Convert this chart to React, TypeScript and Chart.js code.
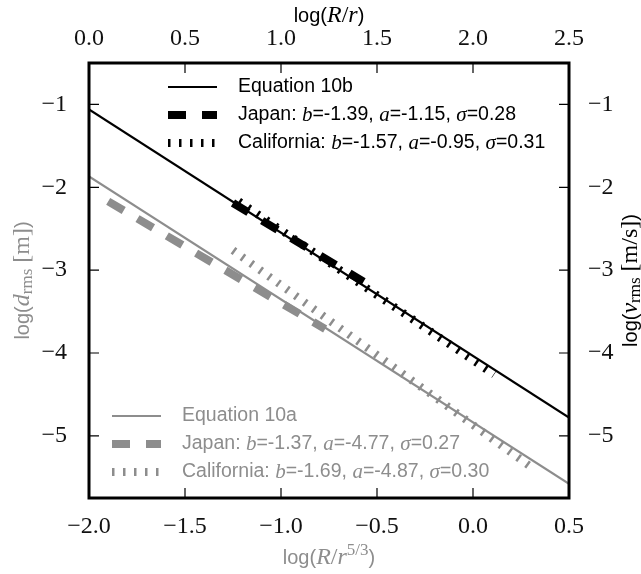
import React, { useEffect, useRef } from 'react';
import { Chart, registerables } from 'chart.js';

Chart.register(...registerables);

// ---- data ----
// Equation 10b family: x = log(R/r) (top axis), y = log(v_rms) (right axis)
const eq10bX = [0.0, 2.5];
const eq10bY = [-1.06, -4.78];
const japan10bX = [0.75, 1.43];
const japan10bY = [-2.19, -3.14];
const california10bX = [0.78, 2.11];
const california10bY = [-2.17, -4.26];

// Equation 10a family: x = log(R/r^{5/3}) (bottom axis), y = log(d_rms) (left axis)
const eq10aX = [-2.0, 0.5];
const eq10aY = [-1.87, -5.58];
const japan10aX = [-1.9, -0.77];
const japan10aY = [-2.17, -3.71];
const california10aX = [-1.25, 0.31];
const california10aY = [-2.76, -5.39];

const bottomTicks = [-2.0, -1.5, -1.0, -0.5, 0.0, 0.5];
const topTicks = [0.0, 0.5, 1.0, 1.5, 2.0, 2.5];
const yTicks = [-5, -4, -3, -2, -1];
const bottomRange = [-2.0, 0.5];
const topRange = [0.0, 2.5];
const yRange = [-5.75, -0.5];

const labels10b = [
  'Equation 10b',
  'Japan: b=-1.39, a=-1.15, σ=0.28',
  'California: b=-1.57, a=-0.95, σ=0.31',
];
const labels10a = [
  'Equation 10a',
  'Japan: b=-1.37, a=-4.77, σ=0.27',
  'California: b=-1.69, a=-4.87, σ=0.30',
];

const BLACK = '#000000';
const GREY = '#8d8d8d';
const SANS = '"Liberation Sans", Arial, sans-serif';
const SERIF = '"Liberation Serif", "Times New Roman", serif';

type Run = { t: string; f: string; dy?: number };

function pts(xs: number[], ys: number[]) {
  return xs.map((x, i) => ({ x, y: ys[i] }));
}

function legendRuns(label: string, size: number): Run[] {
  const runs: Run[] = [];
  const re = /(b|a|σ)(?==)/g;
  let last = 0;
  let m: RegExpExecArray | null;
  while ((m = re.exec(label))) {
    if (m.index > last) runs.push({ t: label.slice(last, m.index), f: `${size}px ${SANS}` });
    runs.push({ t: m[1], f: `italic ${size + 1.5}px ${SERIF}` });
    last = m.index + 1;
  }
  if (last < label.length) runs.push({ t: label.slice(last), f: `${size}px ${SANS}` });
  return runs;
}

function drawRuns(ctx: CanvasRenderingContext2D, runs: Run[], x: number, y: number, align: 'left' | 'center', rot = 0) {
  ctx.save();
  ctx.translate(x, y);
  if (rot) ctx.rotate(rot);
  ctx.textBaseline = 'middle';
  ctx.textAlign = 'left';
  let total = 0;
  for (const r of runs) {
    ctx.font = r.f;
    total += ctx.measureText(r.t).width;
  }
  let cx = align === 'center' ? -total / 2 : 0;
  for (const r of runs) {
    ctx.font = r.f;
    ctx.fillText(r.t, cx, r.dy || 0);
    cx += ctx.measureText(r.t).width;
  }
  ctx.restore();
}

const decor = {
  id: 'decor',
  afterDatasetsDraw(chart: any) {
    const { ctx, chartArea: a, scales } = chart;
    ctx.save();
    // inward tick marks
    ctx.strokeStyle = BLACK;
    ctx.lineWidth = 1.2;
    const L = 10;
    ctx.beginPath();
    for (const t of scales.x.ticks) {
      const p = scales.x.getPixelForValue(t.value);
      ctx.moveTo(p, a.bottom); ctx.lineTo(p, a.bottom - L);
    }
    for (const t of scales.x2.ticks) {
      const p = scales.x2.getPixelForValue(t.value);
      ctx.moveTo(p, a.top); ctx.lineTo(p, a.top + L);
    }
    for (const t of scales.y.ticks) {
      const p = scales.y.getPixelForValue(t.value);
      ctx.moveTo(a.left, p); ctx.lineTo(a.left + L, p);
    }
    for (const t of scales.y2.ticks) {
      const p = scales.y2.getPixelForValue(t.value);
      ctx.moveTo(a.right, p); ctx.lineTo(a.right - L, p);
    }
    ctx.stroke();
    // frame
    ctx.lineWidth = 3;
    ctx.strokeRect(a.left, a.top, a.right - a.left, a.bottom - a.top);

    // legends
    const ds = chart.data.datasets;
    const drawLegend = (idx: number[], labels: string[], sx: number, rowYs: number[], color: string) => {
      idx.forEach((di, i) => {
        const d = ds[di];
        const y = rowYs[i];
        ctx.save();
        ctx.strokeStyle = d.borderColor;
        ctx.lineWidth = d.borderWidth;
        ctx.setLineDash(d.borderDash || []);
        ctx.lineCap = 'butt';
        ctx.beginPath();
        ctx.moveTo(sx, y);
        ctx.lineTo(sx + 49, y);
        ctx.stroke();
        ctx.restore();
        ctx.fillStyle = color;
        drawRuns(ctx, legendRuns(labels[i], 19.5), sx + 70, y, 'left');
      });
    };
    drawLegend([0, 1, 2], labels10b, a.left + 79, [a.top + 24, a.top + 52, a.top + 80], BLACK);
    drawLegend([3, 4, 5], labels10a, a.left + 23, [a.bottom - 82, a.bottom - 54, a.bottom - 26], GREY);

    // axis titles
    const cxm = (a.left + a.right) / 2;
    const cym = (a.top + a.bottom) / 2;
    ctx.fillStyle = BLACK;
    drawRuns(ctx, [
      { t: 'log(', f: `20px ${SANS}` },
      { t: 'R', f: `italic 24px ${SERIF}` },
      { t: '/', f: `24px ${SERIF}` },
      { t: 'r', f: `italic 24px ${SERIF}` },
      { t: ')', f: `20px ${SANS}` },
    ], cxm, 16, 'center');
    ctx.fillStyle = GREY;
    drawRuns(ctx, [
      { t: 'log(', f: `20px ${SANS}` },
      { t: 'R', f: `italic 24px ${SERIF}` },
      { t: '/', f: `24px ${SERIF}` },
      { t: 'r', f: `italic 24px ${SERIF}` },
      { t: '5/3', f: `17px ${SERIF}`, dy: -7 },
      { t: ')', f: `20px ${SANS}` },
    ], cxm, 558, 'center');
    drawRuns(ctx, [
      { t: 'log(', f: `20px ${SANS}` },
      { t: 'd', f: `italic 24px ${SERIF}` },
      { t: 'rms', f: `17px ${SERIF}`, dy: 5 },
      { t: ' [m]', f: `24px ${SERIF}` },
      { t: ')', f: `20px ${SANS}` },
    ], 23, cym, 'center', -Math.PI / 2);
    ctx.fillStyle = BLACK;
    drawRuns(ctx, [
      { t: 'log(', f: `20px ${SANS}` },
      { t: 'v', f: `italic 24px ${SERIF}` },
      { t: 'rms', f: `17px ${SERIF}`, dy: 5 },
      { t: ' [m/s]', f: `24px ${SERIF}` },
      { t: ')', f: `20px ${SANS}` },
    ], 631, cym, 'center', -Math.PI / 2);
    ctx.restore();
  },
};

const tickFont = { family: SERIF, size: 24 };
const fmt1 = (v: any) => Number(v).toFixed(1).replace('-', '\u2212');
const fmt0 = (v: any) => String(Number(v)).replace('-', '\u2212');

export default function App() {
  const ref = useRef<HTMLCanvasElement | null>(null);
  useEffect(() => {
    if (!ref.current) return;
    const line = (data: any, color: string, width: number, dash: number[], xID: string, yID: string) => ({
      data, borderColor: color, backgroundColor: color, borderWidth: width, borderDash: dash,
      borderCapStyle: 'butt', showLine: true, pointRadius: 0, xAxisID: xID, yAxisID: yID, tension: 0,
    });
    const chart = new Chart(ref.current, {
      type: 'scatter',
      data: {
        datasets: [
          line(pts(eq10bX, eq10bY), BLACK, 2.2, [], 'x2', 'y2'),
          line(pts(japan10bX, japan10bY), BLACK, 8, [18, 16], 'x2', 'y2'),
          line(pts(california10bX, california10bY), BLACK, 8, [2.5, 8.5], 'x2', 'y2'),
          line(pts(eq10aX, eq10aY), GREY, 2.2, [], 'x', 'y'),
          line(pts(japan10aX, japan10aY), GREY, 8, [18, 16], 'x', 'y'),
          line(pts(california10aX, california10aY), GREY, 8, [2.5, 8.5], 'x', 'y'),
        ] as any,
      },
      options: {
        animation: false,
        responsive: true,
        maintainAspectRatio: false,
        layout: { padding: 0 },
        plugins: { legend: { display: false }, tooltip: { enabled: false } },
        scales: {
          x: {
            type: 'linear', position: 'bottom', min: bottomRange[0], max: bottomRange[1],
            grid: { display: false }, border: { display: false },
            ticks: { font: tickFont, color: '#111', padding: 6, autoSkip: false, maxRotation: 0, callback: fmt1 },
            afterBuildTicks: (s: any) => { s.ticks = bottomTicks.map((v) => ({ value: v })); },
            afterFit: (s: any) => { s.height = 76; },
          },
          x2: {
            type: 'linear', position: 'top', min: topRange[0], max: topRange[1],
            grid: { display: false }, border: { display: false },
            ticks: { font: tickFont, color: '#111', padding: 2, autoSkip: false, maxRotation: 0, callback: fmt1 },
            afterBuildTicks: (s: any) => { s.ticks = topTicks.map((v) => ({ value: v })); },
            afterFit: (s: any) => { s.height = 63; },
          },
          y: {
            type: 'linear', position: 'left', min: yRange[0], max: yRange[1],
            grid: { display: false }, border: { display: false },
            ticks: { font: tickFont, color: '#111', padding: 14, autoSkip: false, callback: fmt0 },
            afterBuildTicks: (s: any) => { s.ticks = yTicks.map((v) => ({ value: v })); },
            afterFit: (s: any) => { s.width = 89; },
          },
          y2: {
            type: 'linear', position: 'right', min: yRange[0], max: yRange[1],
            grid: { display: false }, border: { display: false },
            ticks: { font: tickFont, color: '#111', padding: 11, autoSkip: false, callback: fmt0 },
            afterBuildTicks: (s: any) => { s.ticks = yTicks.map((v) => ({ value: v })); },
            afterFit: (s: any) => { s.width = 72; },
          },
        },
      } as any,
      plugins: [decor],
    });
    return () => chart.destroy();
  }, []);
  return (
    <div style={{ position: 'fixed', left: 0, top: 0, width: 641, height: 574, background: '#fff' }}>
      <canvas ref={ref} />
    </div>
  );
}
